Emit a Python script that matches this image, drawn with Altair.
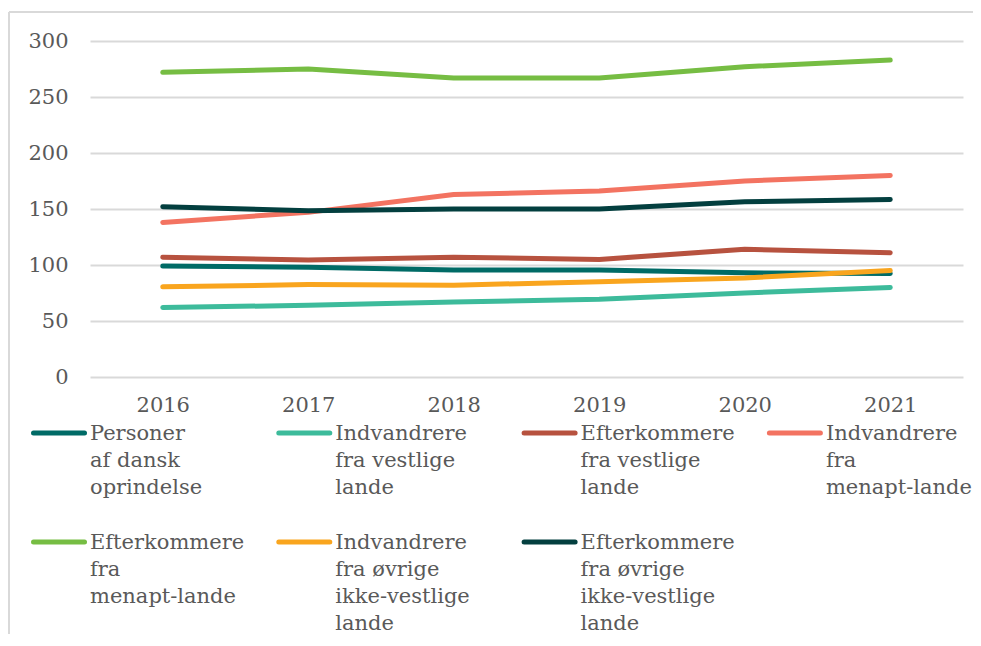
import altair as alt
import pandas as pd

years = ["2016", "2017", "2018", "2019", "2020", "2021"]

series = [
    "Personer af dansk oprindelse",
    "Indvandrere fra vestlige lande",
    "Efterkommere fra vestlige lande",
    "Indvandrere fra menapt-lande",
    "Efterkommere fra menapt-lande",
    "Indvandrere fra øvrige ikke-vestlige lande",
    "Efterkommere fra øvrige ikke-vestlige lande",
]
legend_labels = [
    "Personer\naf dansk\noprindelse",
    "Indvandrere\nfra vestlige\nlande",
    "Efterkommere\nfra vestlige\nlande",
    "Indvandrere\nfra\nmenapt-lande",
    "Efterkommere\nfra\nmenapt-lande",
    "Indvandrere\nfra øvrige\nikke-vestlige\nlande",
    "Efterkommere\nfra øvrige\nikke-vestlige\nlande",
]
colors = ["#006B66", "#3DBB9B", "#B7523F", "#F37361", "#76BD43", "#F9A51E", "#033F3F"]

dansk = [99, 98, 95.5, 95.5, 93, 92.5]
indv_vest = [62, 64, 67, 69.5, 75, 80]
efter_vest = [107, 104.5, 107, 105, 114, 111]
indv_menapt = [138, 147, 163, 166, 175, 180]
efter_menapt = [272, 275, 267, 267, 277, 283]
indv_ovrige = [80.5, 82.5, 82, 85, 88.5, 95]
efter_ovrige = [152, 148.5, 150, 150, 156.5, 158.5]

values = [dansk, indv_vest, efter_vest, indv_menapt, efter_menapt, indv_ovrige, efter_ovrige]

rows = []
for i, (s, vals) in enumerate(zip(series, values)):
    for y, v in zip(years, vals):
        rows.append({"series": s, "order": i, "year": y, "value": v})
df = pd.DataFrame(rows)

leg = pd.DataFrame({
    "series": series,
    "label": legend_labels,
    "col": [i % 4 for i in range(len(series))],
    "row": [i // 4 for i in range(len(series))],
})

FONT = "DejaVu Serif"
GREY = "#595959"
FS = 21
color_scale = alt.Scale(domain=series, range=colors)

lines = alt.Chart(df).mark_line(strokeWidth=5, strokeCap="round", strokeJoin="round").encode(
    x=alt.X("year:N", scale=alt.Scale(type="point", padding=0.5),
            axis=alt.Axis(title=None, labelAngle=0, domain=False, ticks=False, grid=False,
                          labelFont=FONT, labelFontSize=FS, labelColor=GREY, labelPadding=17)),
    y=alt.Y("value:Q", scale=alt.Scale(domain=[0, 300], nice=False),
            axis=alt.Axis(title=None, values=[0, 50, 100, 150, 200, 250, 300], domain=False, ticks=False,
                          labelFont=FONT, labelFontSize=FS, labelColor=GREY, labelPadding=22,
                          gridColor="#D9D9D9", gridWidth=2)),
    color=alt.Color("series:N", scale=color_scale, legend=None),
    order=alt.Order("order:Q"),
    detail="series:N",
)

leg_x = alt.X("col:Q", scale=alt.Scale(domain=[0, 3], range=[-56.5, 679.4]), axis=None)
leg_y = alt.Y("row:Q", scale=alt.Scale(domain=[0, 1], range=[392, 501]), axis=None)

leg_sym = alt.Chart(leg).mark_rule(strokeWidth=5, strokeCap="round", x2Offset=51).encode(
    x=leg_x, x2=alt.X2("col:Q"), y=leg_y,
    color=alt.Color("series:N", scale=color_scale, legend=None),
)
leg_txt = alt.Chart(leg).mark_text(
    align="left", baseline="line-top", lineBreak="\n", lineHeight=27, dx=56.5, dy=-13.5,
    font=FONT, fontSize=FS, color=GREY,
).encode(x=leg_x, y=leg_y, text="label:N")

frame_left = alt.Chart(leg).mark_rule(color="#D9D9D9", strokeWidth=2).encode(
    x=alt.value(-81), y=alt.value(-29), y2=alt.value(700))
frame_top = alt.Chart(leg).mark_rule(color="#D9D9D9", strokeWidth=2).encode(
    x=alt.value(-81), x2=alt.value(900), y=alt.value(-29))

chart = alt.layer(frame_left, frame_top, lines, leg_sym, leg_txt).resolve_scale(
    x="independent", y="independent", color="shared"
).properties(
    width=873, height=336,
    autosize=alt.AutoSizeParams(type="none"),
    padding={"left": 82, "top": 33, "right": 10, "bottom": 257},
).configure_view(stroke=None)

chart.save("out.html", embed_options={"renderer": "svg", "actions": False})
